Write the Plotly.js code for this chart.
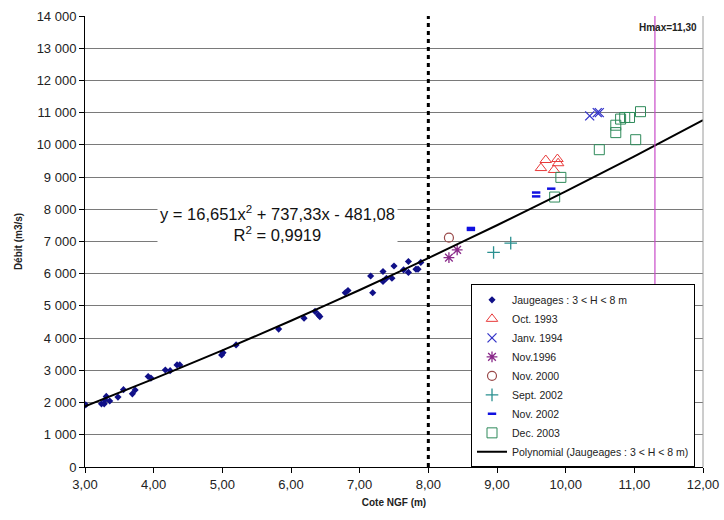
<!DOCTYPE html>
<html>
<head>
<meta charset="utf-8">
<script src="https://cdn.plot.ly/plotly-3.0.1.min.js"></script>
<style>html,body{margin:0;padding:0;background:#fff;}#chart{width:724px;height:520px;}</style>
</head>
<body>
<div id="chart"></div>
<script>
// Jaugeages : 3 < H < 8 m
const jaugX = [3.01,3.24,3.28,3.29,3.31,3.36,3.48,3.56,3.69,3.73,3.92,3.96,4.17,4.24,4.34,4.38,4.99,5.01,5.20,5.82,6.19,6.35,6.40,6.42,6.79,6.83,7.16,7.19,7.34,7.34,7.39,7.47,7.50,7.64,7.71,7.71,7.82,7.85,7.89];
const jaugY = [1930,1960,1960,2080,2190,2050,2170,2400,2270,2390,2810,2760,3010,2990,3170,3170,3480,3550,3790,4280,4620,4830,4720,4670,5410,5480,5930,5410,6070,5760,5860,5860,6240,6120,6380,6040,6140,6140,6350];
// Oct. 1993
const oct93X = [9.64,9.71,9.83,9.88,9.89];
const oct93Y = [9280,9530,9220,9560,9430];
// Janv. 1994
const jan94X = [10.35,10.46,10.49];
const jan94Y = [10900,11000,11000];
// Nov. 1996
const nov96X = [8.30,8.42];
const nov96Y = [6500,6740];
// Nov. 2000
const nov00X = [8.30];
const nov00Y = [7120];
// Sept. 2002
const sep02X = [8.95,9.20];
const sep02Y = [6660,6950];
// Nov. 2002
const nov02X = [8.62,8.62,9.57,9.57,9.79];
const nov02Y = [7420,7360,8520,8400,8640];
// Dec. 2003
const dec03X = [9.84,9.93,10.49,10.73,10.73,10.80,10.86,10.93,11.02,11.09];
const dec03Y = [8380,8990,9850,10380,10610,10800,10850,10850,10160,11030];
// Polynomial trend
const polyX = [3,4,5,6,7,8,9,10,11,12];
const polyY = [1880,2735,3620,4540,5495,6485,7505,8555,9645,10765];
// Reference lines
const hmax = 11.30;
const limit = 8.00;
const yTicks = [0,1000,2000,3000,4000,5000,6000,7000,8000,9000,10000,11000,12000,13000,14000];
const xTicks = [3,4,5,6,7,8,9,10,11,12];

const FONT = '"Liberation Sans", Arial, sans-serif';

const traces = [
  {x: jaugX, y: jaugY, name: 'Jaugeages : 3 < H < 8 m', mode: 'markers', type: 'scatter',
   marker: {symbol: 'diamond', size: 5.5, color: '#101088'}},
  {x: oct93X, y: oct93Y, name: 'Oct. 1993', mode: 'markers', type: 'scatter',
   marker: {symbol: 'triangle-up-open', size: 10, color: '#e83a3a', line: {width: 1}}},
  {x: jan94X, y: jan94Y, name: 'Janv. 1994', mode: 'markers', type: 'scatter',
   marker: {symbol: 'x-thin-open', size: 9, color: '#3434c8', line: {width: 1.3, color: '#3434c8'}}},
  {x: nov96X, y: nov96Y, name: 'Nov.1996', mode: 'markers', type: 'scatter',
   marker: {symbol: 'asterisk-open', size: 9, color: '#8a2a8a', line: {width: 1.3, color: '#8a2a8a'}}},
  {x: nov00X, y: nov00Y, name: 'Nov. 2000', mode: 'markers', type: 'scatter',
   marker: {symbol: 'circle-open', size: 9, color: '#9a4a4a', line: {width: 1.2}}},
  {x: sep02X, y: sep02Y, name: 'Sept. 2002', mode: 'markers', type: 'scatter',
   marker: {symbol: 'cross-thin-open', size: 9, color: '#2a9090', line: {width: 1.3, color: '#2a9090'}}},
  {x: nov02X, y: nov02Y, name: 'Nov. 2002', mode: 'markers', type: 'scatter',
   marker: {symbol: 'line-ew-open', size: 6, color: '#1010e0', line: {width: 2.5, color: '#1010e0'}}},
  {x: dec03X, y: dec03Y, name: 'Dec. 2003', mode: 'markers', type: 'scatter',
   marker: {symbol: 'square-open', size: 10, color: '#2e8a5a', line: {width: 1}}},
  {x: polyX, y: polyY, name: 'Polynomial (Jaugeages : 3 < H < 8 m)', mode: 'lines', type: 'scatter',
   line: {color: '#000', width: 2, shape: 'spline', smoothing: 0.6}}
];

const layout = {
  width: 724, height: 520,
  margin: {l: 85, r: 21, t: 16, b: 53},
  paper_bgcolor: '#fff', plot_bgcolor: '#fff',
  separators: ', ',
  font: {family: FONT, color: '#222', size: 13},
  showlegend: true,
  legend: {x: 0.6246, y: 0.405, xanchor: 'left', yanchor: 'top',
    bgcolor: '#fff', bordercolor: '#000', borderwidth: 1,
    font: {family: FONT, size: 10.5, color: '#222'}, tracegroupgap: 0},
  xaxis: {range: [3, 12], tickvals: xTicks, tickformat: '.2f',
    showgrid: false, zeroline: false, showline: true, linecolor: '#000', linewidth: 1,
    ticks: 'outside', ticklen: 5, tickcolor: '#000',
    tickfont: {family: FONT, size: 13, color: '#222'},
    title: {text: 'Cote NGF (m)', font: {family: FONT, size: 10, color: '#222', weight: 'bold'}, standoff: 8}},
  yaxis: {range: [0, 14000], tickvals: yTicks, tickformat: ',.0f',
    showgrid: true, gridcolor: '#7a7a7a', gridwidth: 1, zeroline: false,
    showline: true, linecolor: '#000', linewidth: 1,
    ticks: 'outside', ticklen: 5, tickcolor: '#000',
    tickfont: {family: FONT, size: 13, color: '#222'},
    title: {text: 'Débit (m3/s)', font: {family: FONT, size: 10, color: '#222', weight: 'bold'}, standoff: 12}},
  shapes: [
    {type: 'line', xref: 'paper', yref: 'paper', x0: 1, x1: 1, y0: 0, y1: 1, line: {color: '#9a9a9a', width: 1}},
    {type: 'line', xref: 'x', yref: 'paper', x0: hmax, x1: hmax, y0: 0, y1: 1, line: {color: '#c84ac8', width: 1.2}},
    {type: 'line', xref: 'x', yref: 'paper', x0: limit, x1: limit, y0: 0, y1: 1, line: {color: '#000', width: 3, dash: '4px,4px'}}
  ],
  annotations: [
    {x: 5.80, y: 7560, xref: 'x', yref: 'y', showarrow: false,
     text: 'y = 16,651x<sup>2</sup> + 737,33x - 481,08<br>R<sup>2</sup> = 0,9919',
     font: {family: FONT, size: 16.5, color: '#111'}, bgcolor: '#fff', borderpad: 2, align: 'center'},
    {x: 11.49, y: 13630, xref: 'x', yref: 'y', showarrow: false, text: '<b>Hmax=11,30</b>',
     font: {family: FONT, size: 10, color: '#222'}}
  ]
};

Plotly.newPlot('chart', traces, layout, {displayModeBar: false, staticPlot: true});
</script>
</body>
</html>
